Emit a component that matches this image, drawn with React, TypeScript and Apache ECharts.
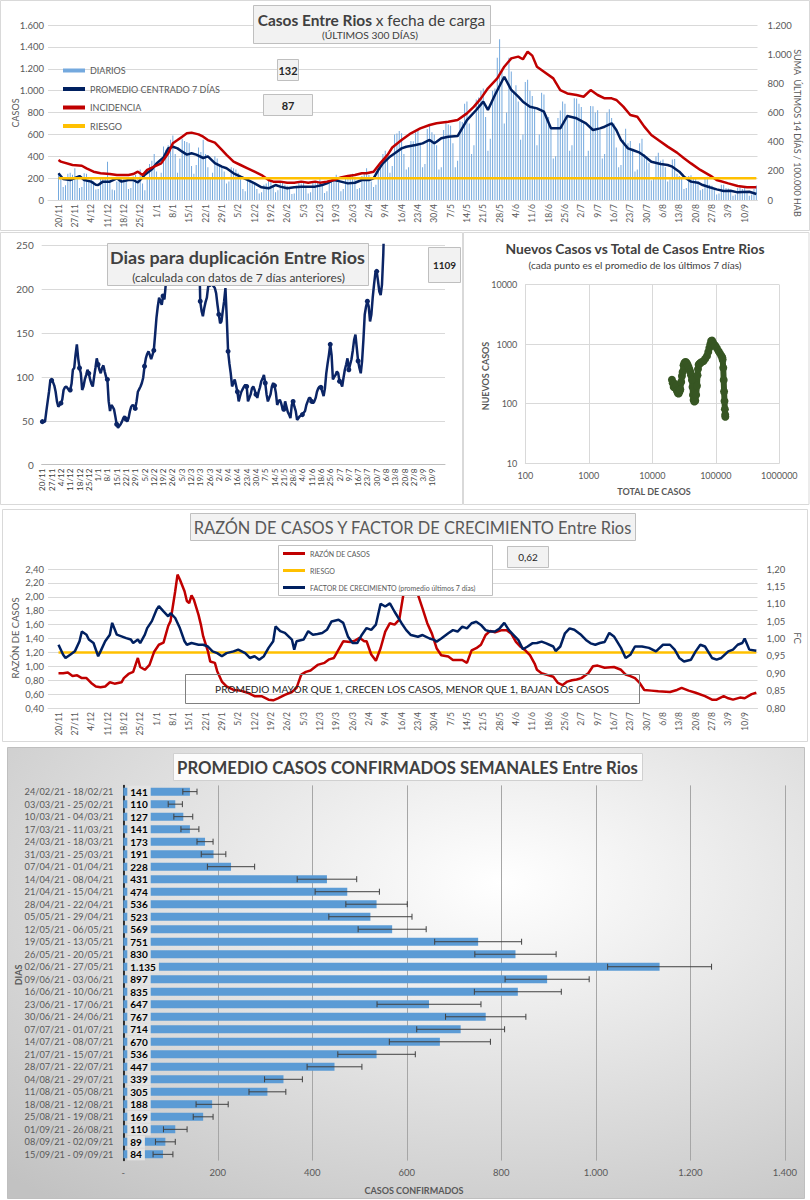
import React, { useEffect, useRef } from 'react';
import * as echarts from 'echarts';

const F = 'Lato, "Noto Sans", sans-serif';

function buildDates(y: number, m: number, d: number, n: number): string[] {
  const out: string[] = [];
  const dt = new Date(Date.UTC(y, m - 1, d));
  for (let i = 0; i < n; i++) {
    out.push(dt.getUTCDate() + '/' + (dt.getUTCMonth() + 1));
    dt.setUTCDate(dt.getUTCDate() + 1);
  }
  return out;
}

// categories: panels 1 & 4 start 4 blank days before 20/11; panel 2 starts 20/11
const CATS_A = buildDates(2020, 11, 16, 304);
const OFF_A = 4;
const CATS_B = buildDates(2020, 11, 20, 304);

// Panel 1 – daily cases (20/11/20 .. 15/09/21)
const DAILY_CASES = [
  245, 205, 120, 135, 240, 250,
  230, 290, 200, 110, 120, 245, 240,
  185, 200, 170, 95, 100, 195, 210,
  200, 350, 180, 95, 90, 170, 200,
  200, 210, 175, 100, 110, 215, 230,
  210, 280, 150, 90, 190, 330, 360,
  420, 260, 200, 250, 490, 460, 500,
  550, 590, 420, 250, 380, 560, 540,
  530, 520, 310, 240, 320, 480, 440,
  550, 420, 300, 200, 250, 400, 380,
  330, 310, 260, 150, 170, 300, 290,
  280, 250, 190, 100, 80, 180, 180,
  150, 140, 100, 60, 70, 140, 150,
  180, 175, 130, 70, 90, 170, 172,
  140, 130, 100, 55, 60, 130, 155,
  150, 160, 120, 60, 70, 160, 170,
  170, 190, 140, 65, 80, 170, 172,
  210, 230, 160, 80, 100, 210, 220,
  230, 240, 200, 100, 110, 220, 237,
  290, 230, 170, 120, 140, 300, 346,
  420, 450, 380, 250, 310, 600, 607,
  630, 610, 420, 280, 300, 540, 538,
  620, 640, 520, 300, 330, 650, 692,
  620, 600, 500, 280, 300, 640, 721,
  690, 680, 520, 300, 360, 720, 713,
  880, 900, 700, 420, 500, 920, 937,
  1000, 1020, 760, 450, 560, 1000, 1020,
  1300, 1470, 1200, 700, 800, 1300, 1175,
  1000, 1050, 900, 550, 600, 1080, 1099,
  1000, 950, 850, 500, 600, 980, 965,
  770, 760, 650, 380, 400, 750, 819,
  900, 880, 780, 450, 500, 930, 929,
  880, 850, 700, 400, 450, 860, 858,
  800, 820, 640, 380, 420, 800, 830,
  750, 700, 480, 300, 320, 550, 652,
  520, 540, 450, 260, 280, 520, 559,
  420, 400, 340, 180, 200, 400, 433,
  360, 370, 300, 170, 190, 370, 375,
  240, 220, 200, 100, 110, 220, 226,
  210, 200, 170, 90, 100, 200, 213,
  140, 130, 110, 50, 60, 140, 140,
  110, 105, 90, 40, 50, 110, 118,
  100, 110, 80, 40, 50, 100, 132,
];

// [day index from 20/11, value]
const AVG7: [number, number][] = [
  [0, 244], [2, 192], [5, 183], [9, 219], [11, 183], [14, 168], [16, 140], [17, 137], [19, 168], [22, 168],
  [25, 198], [27, 168], [30, 183], [32, 183], [34, 160], [35, 183], [37, 231], [40, 280], [42, 334], [45, 388],
  [47, 472], [49, 487], [51, 472], [53, 442], [55, 415], [57, 427], [59, 415], [62, 384], [64, 399], [67, 338],
  [70, 305], [72, 290], [75, 244], [78, 213], [81, 183], [84, 152], [87, 116], [90, 107], [93, 137], [95, 122],
  [98, 107], [101, 116], [104, 122], [107, 122], [110, 122], [113, 137], [115, 152], [118, 183], [121, 168], [124, 152],
  [127, 158], [130, 183], [133, 183], [135, 198], [137, 274], [139, 335], [142, 396], [145, 442], [147, 472], [149, 487],
  [153, 503], [156, 518], [159, 549], [161, 518], [162, 533], [164, 564], [167, 579], [171, 585], [175, 731], [179, 823],
  [182, 899], [184, 823], [187, 960], [191, 1127], [194, 1006], [197, 945], [199, 899], [202, 853], [205, 838], [208, 807],
  [211, 655], [215, 655], [218, 768], [222, 747], [226, 701], [229, 640], [232, 655], [234, 670], [237, 701], [239, 640],
  [241, 549], [244, 472], [246, 457], [249, 433], [251, 402], [254, 350], [258, 329], [261, 320], [263, 305], [266, 259],
  [268, 213], [271, 168], [274, 158], [276, 137], [279, 116], [282, 97], [285, 82], [288, 85], [291, 70], [293, 73],
  [296, 76], [299, 55],
];

const INCIDENCE: [number, number][] = [
  [0, 274], [1, 263], [6, 240], [10, 235], [12, 217], [15, 194], [18, 183], [22, 178], [25, 171], [30, 171],
  [32, 178], [34, 194], [36, 171], [38, 206], [41, 229], [44, 251], [47, 320], [49, 389], [51, 411], [53, 434],
  [55, 457], [57, 462], [60, 450], [62, 434], [64, 411], [67, 393], [70, 343], [72, 309], [75, 263], [78, 240],
  [81, 217], [84, 194], [87, 171], [90, 137], [92, 126], [95, 126], [98, 119], [101, 119], [104, 126], [107, 119],
  [110, 126], [112, 119], [115, 126], [118, 137], [121, 155], [124, 165], [127, 171], [130, 183], [132, 183], [135, 194],
  [138, 255], [141, 309], [143, 360], [147, 411], [151, 457], [155, 491], [159, 514], [162, 526], [167, 537], [171, 549],
  [175, 594], [178, 640], [181, 697], [184, 766], [188, 834], [191, 914], [194, 971], [197, 983], [199, 965], [201, 1017],
  [203, 990], [205, 914], [208, 880], [212, 834], [215, 754], [218, 731], [222, 720], [225, 708], [228, 754], [231, 720],
  [234, 697], [237, 697], [239, 686], [242, 640], [245, 583], [248, 571], [251, 503], [254, 446], [257, 411], [261, 366],
  [265, 325], [268, 286], [271, 251], [275, 206], [280, 160], [282, 137], [287, 114], [291, 96], [295, 87], [299, 87],
];

const RISK_CASES = 200;

// Panel 2 – doubling time (days), [day index from 20/11, value]
const DOUBLING: [number, number][] = [
  [0, 49], [1, 49], [2, 49], [3, 61], [4, 72], [5, 83], [6, 96], [7, 96], [8, 94], [9, 90],
  [10, 83], [11, 72], [12, 66], [13, 68], [14, 70], [15, 74], [16, 85], [17, 88], [18, 89], [19, 87],
  [20, 85], [21, 85], [22, 92], [23, 108], [24, 110], [25, 125], [26, 137], [27, 121], [28, 110], [29, 104],
  [30, 85], [31, 89], [32, 97], [33, 102], [34, 108], [35, 104], [36, 97], [37, 92], [38, 89], [39, 100],
  [40, 110], [41, 121], [42, 114], [43, 108], [44, 104], [45, 110], [46, 113], [47, 106], [48, 100], [49, 97],
  [50, 72], [51, 61], [52, 68], [53, 66], [54, 63], [55, 55], [56, 46], [57, 42], [58, 44], [59, 46],
  [60, 49], [61, 53], [62, 55], [63, 52], [64, 49], [65, 53], [66, 61], [67, 66], [68, 68], [69, 67],
  [70, 64], [71, 72], [72, 83], [73, 86], [74, 89], [75, 93], [76, 99], [77, 112], [78, 121], [79, 126],
  [80, 129], [81, 125], [82, 120], [83, 125], [84, 130], [85, 148], [86, 167], [87, 180], [88, 190], [89, 186],
  [90, 182], [91, 192], [92, 188], [93, 205], [94, 220], [95, 240], [96, 265], [97, 290], [98, 330], [99, 380],
  [100, 420], [101, 470], [102, 520], [103, 560], [104, 600], [105, 580], [106, 560], [107, 540], [108, 520], [109, 500],
  [110, 470], [111, 440], [112, 410], [113, 380], [114, 350], [115, 320], [116, 290], [117, 270], [118, 260], [119, 186],
  [120, 175], [121, 169], [122, 178], [123, 185], [124, 190], [125, 203], [126, 205], [127, 205], [128, 205], [129, 203],
  [130, 201], [131, 195], [132, 182], [133, 171], [134, 161], [135, 163], [136, 175], [137, 186], [138, 201], [139, 167],
  [140, 129], [141, 115], [142, 104], [143, 89], [144, 93], [145, 97], [146, 90], [147, 83], [148, 72], [149, 78],
  [150, 83], [151, 86], [152, 89], [153, 91], [154, 89], [155, 72], [156, 76], [157, 80], [158, 87], [159, 89],
  [160, 85], [161, 80], [162, 76], [163, 83], [164, 88], [165, 95], [166, 98], [167, 102], [168, 93], [169, 80],
  [170, 72], [171, 76], [172, 80], [173, 89], [174, 93], [175, 90], [176, 82], [177, 68], [178, 72], [179, 74],
  [180, 70], [181, 64], [182, 63], [183, 72], [184, 66], [185, 60], [186, 57], [187, 53], [188, 68], [189, 72],
  [190, 66], [191, 61], [192, 51], [193, 53], [194, 55], [195, 56], [196, 57], [197, 59], [198, 61], [199, 68],
  [200, 72], [201, 76], [202, 76], [203, 72], [204, 70], [205, 72], [206, 76], [207, 83], [208, 87], [209, 89],
  [210, 88], [211, 83], [212, 78], [213, 87], [214, 104], [215, 115], [216, 125], [217, 137], [218, 125], [219, 97],
  [220, 100], [221, 102], [222, 106], [223, 104], [224, 95], [225, 93], [226, 89], [227, 99], [228, 108], [229, 114],
  [230, 121], [231, 108], [232, 114], [233, 120], [234, 130], [235, 142], [236, 148], [237, 133], [238, 118], [239, 110],
  [240, 104], [241, 118], [242, 142], [243, 171], [244, 180], [245, 186], [246, 180], [247, 163], [248, 171], [249, 190],
  [250, 205], [251, 218], [252, 220], [253, 209], [254, 197], [255, 193], [256, 205], [257, 240], [258, 300], [259, 1109],
];

// Panel 3 – [total cases, new cases (7-day avg)]
const SCATTER: [number, number][] = [
  [20400, 252], [21000, 220], [21700, 190], [22500, 215], [23000, 183], [23800, 200], [24400, 165], [25200, 150],
  [26000, 148], [26800, 160], [27600, 172], [28500, 230], [29300, 290], [30000, 340], [31100, 440], [32000, 480],
  [33100, 500], [34000, 495], [35100, 475], [36200, 440], [37300, 410], [38500, 370], [39700, 340], [40800, 300],
  [42100, 250], [43000, 190], [43700, 140], [44800, 115], [46000, 108], [47500, 112], [49000, 140], [50500, 200],
  [51500, 300], [52400, 380], [53700, 450], [55500, 470], [57000, 480], [60000, 500], [64300, 520], [68000, 570],
  [72600, 630], [76000, 740], [79000, 860], [81900, 1000], [84500, 1130], [87100, 1150], [90000, 1080], [94000, 990],
  [98200, 940], [104000, 850], [110800, 760], [116000, 700], [122200, 640], [126000, 600], [128200, 550], [131000, 400],
  [133000, 250], [135000, 160], [137000, 110], [139000, 80], [140500, 65], [141200, 60],
];

// Panel 4 – case ratio (left axis) and growth factor (right axis)
const RATIO: [number, number][] = [
  [0, 0.9], [2, 0.9], [4, 0.91], [6, 0.86], [8, 0.87], [10, 0.83], [12, 0.83], [14, 0.76], [16, 0.71], [18, 0.7],
  [20, 0.71], [22, 0.77], [24, 0.75], [27, 0.77], [28, 0.83], [30, 0.89], [32, 0.92], [34, 1.12], [35, 0.99], [37, 0.95],
  [39, 1.02], [41, 1.21], [43, 1.31], [45, 1.34], [47, 1.58], [48, 1.65], [50, 2.08], [51, 2.32], [52, 2.25], [54, 2.08],
  [55, 1.94], [56, 1.91], [57, 2.02], [58, 1.96], [60, 1.74], [61, 1.6], [62, 1.43], [64, 1.22], [65, 1.07], [67, 1.05],
  [68, 0.93], [70, 0.78], [72, 0.71], [75, 0.66], [78, 0.65], [81, 0.62], [84, 0.57], [87, 0.57], [90, 0.52], [92, 0.51],
  [94, 0.54], [97, 0.59], [100, 0.63], [102, 0.69], [104, 0.88], [106, 0.92], [108, 0.94], [111, 1.02], [114, 1.05], [116, 1.1],
  [118, 1.12], [120, 1.24], [122, 1.36], [125, 1.35], [127, 1.37], [129, 1.41], [131, 1.36], [132, 1.36], [134, 1.17], [136, 1.08],
  [138, 1.26], [140, 1.5], [142, 1.62], [144, 1.6], [146, 1.67], [148, 2.08], [150, 2.35], [152, 2.3], [154, 2.03], [156, 1.83],
  [158, 1.62], [160, 1.47], [162, 1.26], [164, 1.16], [167, 1.14], [169, 1.09], [171, 1.09], [173, 1.09], [175, 1.05], [177, 1.23],
  [179, 1.26], [181, 1.31], [183, 1.45], [185, 1.51], [187, 1.49], [190, 1.52], [192, 1.52], [194, 1.47], [196, 1.35], [198, 1.28],
  [200, 1.23], [202, 1.16], [204, 1.04], [205, 0.95], [207, 0.9], [210, 0.87], [212, 0.85], [214, 0.76], [216, 0.73], [218, 0.78],
  [220, 0.8], [222, 0.81], [224, 0.83], [227, 0.9], [229, 1.0], [231, 1.01], [234, 0.98], [238, 0.99], [241, 0.95], [243, 0.88],
  [245, 0.86], [247, 0.83], [249, 0.76], [251, 0.66], [254, 0.65], [257, 0.64], [262, 0.63], [265, 0.66], [267, 0.69], [270, 0.65],
  [273, 0.62], [277, 0.57], [280, 0.52], [282, 0.52], [285, 0.57], [287, 0.54], [289, 0.52], [292, 0.55], [294, 0.54], [297, 0.6],
  [299, 0.62],
];

const GROWTH: [number, number][] = [
  [0, 0.982], [2, 0.953], [3, 0.944], [5, 0.953], [7, 0.963], [9, 0.992], [10, 1.02], [12, 1.011], [13, 0.997], [15, 0.987],
  [17, 0.949], [18, 0.963], [20, 0.992], [22, 1.011], [23, 1.045], [25, 1.011], [27, 1.006], [29, 1.001], [31, 0.997], [32, 0.987],
  [34, 0.997], [35, 0.987], [37, 1.011], [38, 1.03], [40, 1.05], [42, 1.083], [43, 1.093], [45, 1.078], [47, 1.064], [48, 1.073],
  [50, 1.059], [52, 1.03], [54, 0.992], [55, 0.982], [57, 0.987], [60, 0.982], [62, 0.982], [64, 0.977], [66, 0.963], [68, 0.958],
  [70, 0.949], [72, 0.958], [75, 0.963], [77, 0.968], [80, 0.958], [82, 0.944], [84, 0.949], [86, 0.939], [88, 0.949], [90, 0.973],
  [92, 0.992], [93, 1.035], [95, 1.021], [97, 1.016], [100, 0.997], [101, 0.968], [102, 0.992], [105, 0.997], [107, 1.021], [109, 1.011],
  [111, 1.013], [113, 1.016], [115, 1.025], [117, 1.049], [120, 1.054], [122, 1.045], [124, 1.006], [126, 0.987], [128, 0.987], [130, 1.011],
  [132, 1.03], [134, 1.025], [136, 1.04], [138, 1.1], [140, 1.092], [142, 1.101], [144, 1.077], [147, 1.044], [149, 1.024], [151, 1.01],
  [154, 1.005], [156, 1.01], [159, 1.0], [161, 0.996], [162, 0.991], [164, 1.0], [167, 1.015], [169, 1.024], [171, 1.02], [173, 1.034],
  [175, 1.029], [177, 1.044], [179, 1.048], [181, 1.039], [183, 1.024], [185, 1.02], [187, 1.02], [189, 1.029], [191, 1.045], [193, 1.024],
  [195, 1.01], [197, 0.996], [199, 0.969], [201, 0.977], [203, 0.986], [205, 0.987], [207, 0.991], [209, 0.986], [212, 0.977], [213, 0.964],
  [215, 0.977], [217, 1.015], [219, 1.029], [221, 1.025], [224, 1.01], [226, 0.996], [228, 0.986], [230, 0.982], [232, 0.987], [234, 0.99],
  [236, 1.016], [238, 1.006], [241, 0.973], [243, 0.944], [245, 0.953], [247, 0.977], [250, 0.977], [253, 0.973], [256, 0.963], [259, 0.982],
  [262, 0.982], [264, 0.968], [266, 0.944], [268, 0.934], [271, 0.939], [273, 0.963], [275, 0.982], [277, 0.977], [280, 0.944], [282, 0.939],
  [284, 0.944], [287, 0.963], [289, 0.968], [291, 0.982], [293, 0.987], [294, 1.0], [296, 0.968], [299, 0.965],
];

const RISK_RATIO = 1.2;

// Panel 5 – weekly averages
const WEEK_LABELS = [
  '24/02/21 - 18/02/21', '03/03/21 - 25/02/21', '10/03/21 - 04/03/21', '17/03/21 - 11/03/21', '24/03/21 - 18/03/21',
  '31/03/21 - 25/03/21', '07/04/21 - 01/04/21', '14/04/21 - 08/04/21', '21/04/21 - 15/04/21', '28/04/21 - 22/04/21',
  '05/05/21 - 29/04/21', '12/05/21 - 06/05/21', '19/05/21 - 13/05/21', '26/05/21 - 20/05/21', '02/06/21 - 27/05/21',
  '09/06/21 - 03/06/21', '16/06/21 - 10/06/21', '23/06/21 - 17/06/21', '30/06/21 - 24/06/21', '07/07/21 - 01/07/21',
  '14/07/21 - 08/07/21', '21/07/21 - 15/07/21', '28/07/21 - 22/07/21', '04/08/21 - 29/07/21', '11/08/21 - 05/08/21',
  '18/08/21 - 12/08/21', '25/08/21 - 19/08/21', '01/09/21 - 26/08/21', '08/09/21 - 02/09/21', '15/09/21 - 09/09/21',
];
const WEEK_AVG = [141, 110, 127, 141, 173, 191, 228, 431, 474, 536, 523, 569, 751, 830, 1135, 897, 835, 647, 767, 714, 670, 536, 447, 339, 305, 188, 169, 110, 89, 84];
const WEEK_ERR = [15, 15, 20, 19, 17, 26, 50, 63, 68, 65, 88, 72, 92, 86, 110, 89, 92, 110, 85, 93, 107, 82, 58, 40, 39, 34, 21, 25, 21, 21];

const fmtK = (v: number) => String(Math.round(v)).replace(/\B(?=(\d{3})+(?!\d))/g, '.');
const fmtC = (v: number) => v.toFixed(2).replace('.', ',');

let ctx: CanvasRenderingContext2D | null = null;
function measure(t: string, font: string): number {
  if (!ctx) ctx = document.createElement('canvas').getContext('2d');
  if (!ctx) return t.length * 6;
  ctx.font = font;
  return ctx.measureText(t).width;
}
function fitSize(t: string, weight: string, target: number): number {
  const w = measure(t, `${weight} 20px ${F}`);
  return Math.min(24, (20 * target) / w);
}

function rect(x: number, y: number, w: number, h: number, fill: any, stroke: string, z: number) {
  return { type: 'rect', z, silent: true, shape: { x, y, width: w, height: h }, style: { fill, stroke, lineWidth: 1 } };
}
function text(x: number, y: number, t: string, size: number, opt: any = {}) {
  const weight = opt.weight || 'normal';
  return {
    type: 'text',
    z: opt.z ?? 100,
    silent: true,
    x,
    y,
    rotation: opt.rotation || 0,
    style: {
      text: t,
      font: `${weight} ${size}px ${F}`,
      fill: opt.color || '#595959',
      textAlign: opt.align || 'center',
      textVerticalAlign: 'middle',
      align: opt.align || 'center',
      verticalAlign: 'middle',
    },
  };
}

function buildOption(): any {
  const G: any[] = [];
  // panel frames
  G.push(rect(0.5, 0.5, 809, 230, '#ffffff', '#d9d9d9', -1));
  G.push(rect(0.5, 232.5, 462, 272, '#ffffff', '#d9d9d9', -1));
  G.push(rect(463.5, 232.5, 345.5, 272, '#ffffff', '#d9d9d9', -1));
  G.push(rect(2.5, 509.5, 805, 232, '#ffffff', '#d9d9d9', -1));
  G.push(
    rect(
      7.5, 747.5, 797, 451,
      new echarts.graphic.RadialGradient(0.62, 0.3, 0.9, [
        { offset: 0, color: '#ffffff' },
        { offset: 1, color: '#c2c2c2' },
      ]),
      '#bfbfbf', -1,
    ),
  );

  // Panel 1 texts
  const t1b = 'Casos Entre Rios';
  const t1n = 'x fecha de carga';
  const s1 = fitSize(t1b + ' ' + t1n, 'bold', 229);
  const wb = measure(t1b + ' ', `bold ${s1}px ${F}`);
  const wn = measure(t1n, `normal ${s1}px ${F}`);
  const x1 = 371.5 - (wb + wn) / 2;
  G.push(rect(253.5, 5.5, 237, 38, '#f2f2f2', '#bfbfbf', 100));
  G.push(text(x1, 19.5, t1b, s1, { weight: 'bold', color: '#404040', align: 'left' }));
  G.push(text(x1 + wb, 19.5, t1n, s1, { color: '#404040', align: 'left' }));
  G.push(text(370, 35, '(ÚLTIMOS 300 DÍAS)', fitSize('(ÚLTIMOS 300 DÍAS)', 'normal', 96), { color: '#404040' }));
  G.push(rect(277.5, 59.5, 21, 21, '#f2f2f2', '#bfbfbf', 100));
  G.push(text(288, 70, '132', 11, { weight: 'bold', color: '#262626' }));
  G.push(rect(263.5, 94.5, 49, 21, '#f2f2f2', '#bfbfbf', 100));
  G.push(text(288, 105, '87', 11, { weight: 'bold', color: '#262626' }));
  G.push(text(15, 113, 'CASOS', 9, { rotation: Math.PI / 2 }));
  G.push(text(797, 133, 'SUMA  ÚLTIMOS 14 DÍAS / 100.000 HAB', 9, { rotation: -Math.PI / 2 }));

  // Panel 2 texts
  const t2 = 'Dias para duplicación Entre Rios';
  G.push(rect(107.5, 243.5, 261, 42, '#f2f2f2', '#bfbfbf', 100));
  G.push(text(237.5, 257, t2, fitSize(t2, 'bold', 255), { weight: 'bold', color: '#404040' }));
  const st2 = '(calculada con datos de 7 días anteriores)';
  G.push(text(238.5, 277, st2, fitSize(st2, 'normal', 213), { color: '#404040' }));
  G.push(rect(428.5, 247.5, 32, 35, '#f2f2f2', '#bfbfbf', 100));
  G.push(text(444.5, 265, '1109', 10, { weight: 'bold', color: '#262626' }));

  // Panel 3 texts
  const t3 = 'Nuevos Casos vs Total de Casos Entre Rios';
  G.push(text(635, 248, t3, fitSize(t3, 'bold', 260), { weight: 'bold', color: '#404040' }));
  const st3 = '(cada punto es el promedio de los últimos 7 días)';
  G.push(text(635, 265, st3, fitSize(st3, 'normal', 213), { color: '#404040' }));
  G.push(text(485, 376, 'NUEVOS CASOS', 9, { weight: 'bold', rotation: Math.PI / 2 }));
  G.push(text(654, 491, 'TOTAL DE CASOS', 9, { weight: 'bold' }));

  // Panel 4 texts
  const t4 = 'RAZÓN DE CASOS Y FACTOR DE CRECIMIENTO Entre Rios';
  G.push(rect(190.5, 513.5, 445, 27, '#f2f2f2', '#bfbfbf', 100));
  G.push(text(412.5, 527, t4, fitSize(t4, 'normal', 439), { color: '#595959' }));
  G.push(rect(278.5, 545.5, 214, 50, '#ffffff', '#bfbfbf', 100));
  G.push(rect(507.5, 546.5, 41, 21, '#f2f2f2', '#bfbfbf', 100));
  G.push(text(528, 557, '0,62', 10, { color: '#262626' }));
  const t4b = 'PROMEDIO MAYOR QUE 1, CRECEN LOS CASOS, MENOR QUE 1, BAJAN LOS CASOS';
  G.push(rect(185.5, 674.5, 454, 29, 'rgba(255,255,255,0)', '#7f7f7f', 100));
  G.push(text(412, 689, t4b, fitSize(t4b, 'normal', 394), { color: '#262626' }));
  G.push(text(15, 638, 'RAZÓN DE CASOS', 9.5, { rotation: Math.PI / 2 }));
  G.push(text(797, 638, 'FC', 9.5, { rotation: -Math.PI / 2 }));

  // Panel 5 texts
  const t5 = 'PROMEDIO CASOS CONFIRMADOS SEMANALES Entre Rios';
  G.push(rect(173.5, 753.5, 469, 27, '#fbfbfb', '#d0d0d0', 100));
  G.push(text(407.5, 767, t5, fitSize(t5, 'bold', 461), { weight: 'bold', color: '#404040' }));
  G.push(text(18, 975, 'DIAS', 9, { weight: 'bold', rotation: Math.PI / 2 }));
  G.push(text(414, 1190, 'CASOS CONFIRMADOS', 9, { weight: 'bold' }));

  const gridLine = { lineStyle: { color: '#d9d9d9', width: 1 } };
  const lbl = (size: number, extra: any = {}) => ({ fontSize: size, color: '#595959', fontFamily: F, ...extra });

  return {
    animation: false,
    backgroundColor: '#ffffff',
    textStyle: { fontFamily: F },
    graphic: { elements: G },
    grid: [
      { left: 48, top: 25, width: 709.5, height: 175 },
      { left: 41.7, top: 245, width: 403.3, height: 219.7 },
      { left: 525.3, top: 284.7, width: 254, height: 178.3 },
      { left: 48, top: 569, width: 709.5, height: 139 },
      { left: 123.3, top: 785.4, width: 661.5, height: 375.2 },
    ],
    legend: [
      {
        data: [
          { name: 'DIARIOS', icon: 'rect' },
          { name: 'PROMEDIO CENTRADO 7 DÍAS', icon: 'rect' },
          { name: 'INCIDENCIA', icon: 'rect' },
          { name: 'RIESGO', icon: 'rect' },
        ],
        orient: 'vertical', left: 63, top: 65.5, padding: 0, itemWidth: 22, itemHeight: 4, itemGap: 8.5,
        selectedMode: false,
        textStyle: { fontSize: 9, color: '#595959', fontFamily: F, lineHeight: 10 },
      },
      {
        data: [
          { name: 'RAZÓN DE CASOS', icon: 'rect' },
          { name: 'RIESGO', icon: 'rect' },
          { name: 'FACTOR DE CRECIMIENTO (promedio últimos 7 días)', icon: 'rect' },
        ],
        orient: 'vertical', left: 283, top: 549, padding: 0, itemWidth: 22, itemHeight: 3, itemGap: 8,
        selectedMode: false, z: 110,
        textStyle: { fontSize: 7, color: '#595959', fontFamily: F, lineHeight: 9 },
      },
    ],
    xAxis: [
      {
        type: 'category', gridIndex: 0, data: CATS_A, boundaryGap: true,
        axisLine: { lineStyle: { color: '#d9d9d9' } }, axisTick: { show: false },
        axisLabel: lbl(8.5, { rotate: 90, margin: 4, interval: (i: number) => i >= OFF_A && (i - OFF_A) % 7 === 0 }),
      },
      {
        type: 'category', gridIndex: 1, data: CATS_B, boundaryGap: true,
        axisLine: { lineStyle: { color: '#bfbfbf' } }, axisTick: { show: false },
        axisLabel: lbl(8, { rotate: 90, margin: 4, color: '#404040', interval: (i: number) => i <= 294 && i % 7 === 0 }),
      },
      {
        type: 'log', gridIndex: 2, logBase: 10, min: 100, max: 1000000, splitNumber: 4,
        axisLine: { lineStyle: { color: '#d9d9d9' } }, axisTick: { show: false },
        splitLine: gridLine,
        axisLabel: lbl(9, { margin: 8, formatter: (v: number) => String(Math.round(v)) }),
      },
      {
        type: 'category', gridIndex: 3, data: CATS_A, boundaryGap: true,
        axisLine: { lineStyle: { color: '#d9d9d9' } }, axisTick: { show: false },
        axisLabel: lbl(8.5, { rotate: 90, margin: 4, interval: (i: number) => i >= OFF_A && (i - OFF_A) % 7 === 0 }),
      },
      {
        type: 'value', gridIndex: 4, min: 0, max: 1400, interval: 200,
        axisLine: { show: false }, axisTick: { show: false },
        splitLine: { lineStyle: { color: '#a6a6a6', width: 1 } },
        axisLabel: lbl(9.5, { margin: 7, formatter: (v: number) => (v === 0 ? '-' : fmtK(v)) }),
      },
    ],
    yAxis: [
      {
        type: 'value', gridIndex: 0, min: 0, max: 1600, interval: 200,
        axisLine: { show: false }, axisTick: { show: false }, splitLine: gridLine,
        axisLabel: lbl(9.5, { margin: 4, formatter: fmtK }),
      },
      {
        type: 'value', gridIndex: 0, position: 'right', min: 0, max: 1200, interval: 200,
        axisLine: { show: false }, axisTick: { show: false }, splitLine: { show: false },
        axisLabel: lbl(9.5, { margin: 10, formatter: fmtK }),
      },
      {
        type: 'value', gridIndex: 1, min: 0, max: 250, interval: 50,
        axisLine: { show: false }, axisTick: { show: false }, splitLine: gridLine,
        axisLabel: lbl(10, { margin: 8 }),
      },
      {
        type: 'log', gridIndex: 2, logBase: 10, min: 10, max: 10000, splitNumber: 3,
        axisLine: { show: true, lineStyle: { color: '#d9d9d9' } }, axisTick: { show: false }, splitLine: gridLine,
        axisLabel: lbl(9, { margin: 8, formatter: (v: number) => String(Math.round(v)) }),
      },
      {
        type: 'value', gridIndex: 3, min: 0.4, max: 2.4, interval: 0.2,
        axisLine: { show: false }, axisTick: { show: false }, splitLine: gridLine,
        axisLabel: lbl(9.5, { margin: 4, formatter: fmtC }),
      },
      {
        type: 'value', gridIndex: 3, position: 'right', min: 0.8, max: 1.2, interval: 0.05,
        axisLine: { show: false }, axisTick: { show: false }, splitLine: { show: false },
        axisLabel: lbl(9.5, { margin: 9, formatter: fmtC }),
      },
      {
        type: 'category', gridIndex: 4, data: WEEK_LABELS, inverse: true,
        axisLine: { show: true, lineStyle: { color: '#000000', width: 1.5 } }, axisTick: { show: false },
        axisLabel: lbl(9.2, { margin: 10 }),
      },
    ],
    series: [
      {
        name: 'DIARIOS', type: 'bar', xAxisIndex: 0, yAxisIndex: 0,
        data: DAILY_CASES.map((v, i) => [i + OFF_A, v]),
        barWidth: 1, itemStyle: { color: '#74a9de' }, z: 2,
      },
      {
        name: 'PROMEDIO CENTRADO 7 DÍAS', type: 'line', xAxisIndex: 0, yAxisIndex: 0,
        data: AVG7.map(([d, v]) => [d + OFF_A, v]), symbol: 'none',
        lineStyle: { width: 2.5, color: '#002060' }, itemStyle: { color: '#002060' }, z: 3,
      },
      {
        name: 'INCIDENCIA', type: 'line', xAxisIndex: 0, yAxisIndex: 1,
        data: INCIDENCE.map(([d, v]) => [d + OFF_A, v]), symbol: 'none',
        lineStyle: { width: 2.5, color: '#c00000' }, itemStyle: { color: '#c00000' }, z: 3,
      },
      {
        name: 'RIESGO', type: 'line', xAxisIndex: 0, yAxisIndex: 0,
        data: [[OFF_A, RISK_CASES], [303, RISK_CASES]], symbol: 'none',
        lineStyle: { width: 2.5, color: '#ffc000' }, itemStyle: { color: '#ffc000' }, z: 4,
      },
      {
        name: 'DUPLICACIÓN', type: 'line', xAxisIndex: 1, yAxisIndex: 2,
        data: DOUBLING, symbol: 'circle', symbolSize: 5, clip: true,
        lineStyle: { width: 2.5, color: '#0b2566' }, itemStyle: { color: '#0b2566' }, z: 3,
      },
      {
        name: 'NUEVOS CASOS', type: 'line', xAxisIndex: 2, yAxisIndex: 3,
        data: SCATTER, symbol: 'circle', symbolSize: 8,
        lineStyle: { width: 6, color: '#375623' }, itemStyle: { color: '#375623' }, z: 3,
      },
      {
        name: 'RIESGO', type: 'line', xAxisIndex: 3, yAxisIndex: 4,
        data: [[OFF_A, RISK_RATIO], [303, RISK_RATIO]], symbol: 'none',
        lineStyle: { width: 2.5, color: '#ffc000' }, itemStyle: { color: '#ffc000' }, z: 2,
      },
      {
        name: 'RAZÓN DE CASOS', type: 'line', xAxisIndex: 3, yAxisIndex: 4,
        data: RATIO.map(([d, v]) => [d + OFF_A, v]), symbol: 'none',
        lineStyle: { width: 2.5, color: '#c00000' }, itemStyle: { color: '#c00000' }, z: 3,
      },
      {
        name: 'FACTOR DE CRECIMIENTO (promedio últimos 7 días)', type: 'line', xAxisIndex: 3, yAxisIndex: 5,
        data: GROWTH.map(([d, v]) => [d + OFF_A, v]), symbol: 'none',
        lineStyle: { width: 2.5, color: '#002060' }, itemStyle: { color: '#002060' }, z: 3,
      },
      {
        name: 'PROMEDIO SEMANAL', type: 'bar', xAxisIndex: 4, yAxisIndex: 6,
        data: WEEK_AVG, barWidth: 8, itemStyle: { color: '#5b9bd5' }, z: 2,
        label: {
          show: true, position: 'insideLeft', distance: 4,
          formatter: (p: any) => fmtK(p.value),
          fontSize: 10, fontWeight: 'bold', color: '#000000', fontFamily: F,
          backgroundColor: '#e3e3e3', padding: [1, 3, 1, 3],
        },
      },
      {
        name: 'ERROR', type: 'custom', xAxisIndex: 4, yAxisIndex: 6, z: 5,
        data: WEEK_AVG.map((v, i) => [v, WEEK_ERR[i], i]),
        encode: { x: 0, y: 2 },
        renderItem: (_p: any, api: any) => {
          const v = api.value(0);
          const e = api.value(1);
          const idx = api.value(2);
          const a = api.coord([v - e, idx]);
          const b = api.coord([v + e, idx]);
          const h = 3;
          const st = { stroke: '#404040', lineWidth: 1 };
          return {
            type: 'group',
            children: [
              { type: 'line', shape: { x1: a[0], y1: a[1], x2: b[0], y2: b[1] }, style: st },
              { type: 'line', shape: { x1: a[0], y1: a[1] - h, x2: a[0], y2: a[1] + h }, style: st },
              { type: 'line', shape: { x1: b[0], y1: b[1] - h, x2: b[0], y2: b[1] + h }, style: st },
            ],
          };
        },
      },
    ],
  };
}

export default function App() {
  const ref = useRef<HTMLDivElement>(null);
  useEffect(() => {
    if (!ref.current) return;
    const chart = echarts.init(ref.current, null, { renderer: 'svg' });
    chart.setOption(buildOption());
    return () => chart.dispose();
  }, []);
  return (
    <div
      ref={ref}
      style={{ position: 'absolute', left: 0, top: 0, width: 810, height: 1200, background: '#ffffff' }}
    />
  );
}
